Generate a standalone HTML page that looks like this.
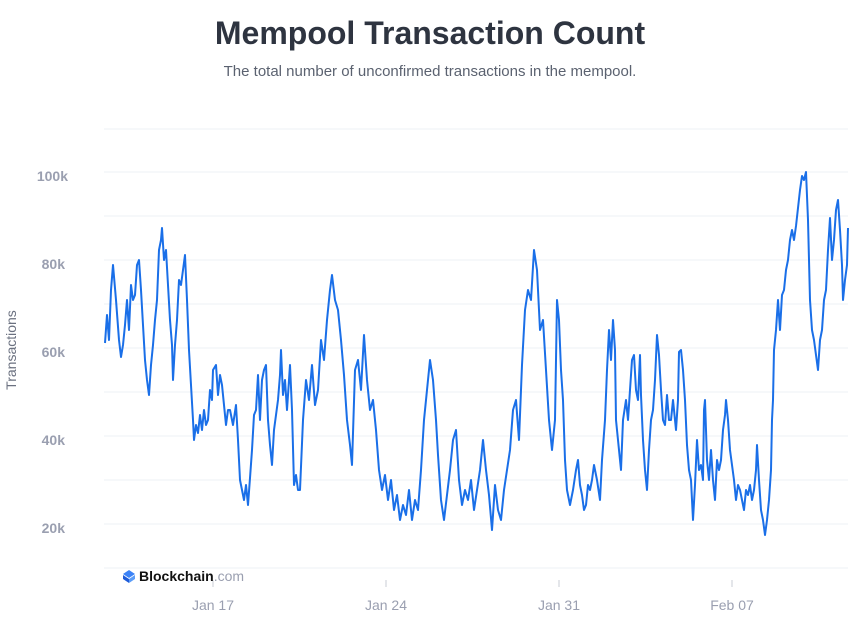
<!DOCTYPE html>
<html><head><meta charset="utf-8"><style>
body{margin:0;background:#fff;width:861px;height:618px;overflow:hidden;font-family:"Liberation Sans",sans-serif}
</style></head><body>
<svg width="861" height="618" xmlns="http://www.w3.org/2000/svg" font-family="Liberation Sans, sans-serif">
<text x="430" y="44" text-anchor="middle" font-size="32" font-weight="bold" fill="#2e3440">Mempool Transaction Count</text>
<text x="430" y="76" text-anchor="middle" font-size="15" fill="#5b6270">The total number of unconfirmed transactions in the mempool.</text>
<g stroke="#eef0f4" stroke-width="1">
<line x1="104" x2="848" y1="129" y2="129"/><line x1="104" x2="848" y1="172" y2="172"/><line x1="104" x2="848" y1="216" y2="216"/><line x1="104" x2="848" y1="260" y2="260"/><line x1="104" x2="848" y1="304" y2="304"/><line x1="104" x2="848" y1="348" y2="348"/><line x1="104" x2="848" y1="392" y2="392"/><line x1="104" x2="848" y1="436" y2="436"/><line x1="104" x2="848" y1="480" y2="480"/><line x1="104" x2="848" y1="524" y2="524"/><line x1="104" x2="848" y1="568" y2="568"/>
</g>
<g font-size="14" font-weight="bold" fill="#9a9fb0" text-anchor="end">
<text x="68" y="181">100k</text><text x="65" y="269">80k</text><text x="65" y="357">60k</text><text x="65" y="445">40k</text><text x="65" y="533">20k</text>
</g>
<text transform="translate(16,350) rotate(-90)" text-anchor="middle" font-size="14" fill="#6b7180">Transactions</text>
<g stroke="#c8ccd6"><line x1="213" x2="213" y1="580" y2="587"/><line x1="386" x2="386" y1="580" y2="587"/><line x1="559" x2="559" y1="580" y2="587"/><line x1="732" x2="732" y1="580" y2="587"/></g>
<g font-size="14" fill="#9a9fb0" text-anchor="middle">
<text x="213" y="610">Jan 17</text><text x="386" y="610">Jan 24</text><text x="559" y="610">Jan 31</text><text x="732" y="610">Feb 07</text>
</g>
<g transform="translate(123,570)"><path d="M6,0 L12,4 L6,8 L0,4Z" fill="#3b82f6"/><path d="M0,5 L6,9 L6,13 L0,9Z" fill="#1e5bd8"/><path d="M12,5 L6,9 L6,13 L12,9Z" fill="#5a9cf8"/></g>
<text x="139" y="581" font-size="14" font-weight="bold" fill="#111">Blockchain<tspan fill="#9a9fb0" font-weight="normal">.com</tspan></text>
<polyline fill="none" stroke="#1a6fe8" stroke-width="2" stroke-linejoin="round" points="105,343 107,315 109,340 111,290 113,265 116,300 119,340 121,357 123,345 125,325 127,300 129,330 131,285 133,300 135,295 137,265 139,260 141,290 143,325 145,360 147,380 149,395 151,365 153,345 155,320 157,300 159,250 161,240 162,228 164,260 166,250 168,285 170,320 172,345 173,380 175,345 177,320 179,280 181,285 183,270 185,255 187,300 189,350 191,385 193,420 194,440 196,425 198,433 200,415 202,430 204,410 206,425 208,420 210,390 212,400 213,370 216,365 218,395 220,375 222,385 224,405 226,425 228,410 230,410 233,425 236,405 238,440 240,480 242,490 244,500 246,485 248,505 250,478 252,450 254,415 256,410 258,375 260,420 262,380 264,370 266,365 268,420 270,445 272,465 274,430 276,415 278,400 280,375 281,350 283,395 285,380 287,410 290,365 292,410 294,485 296,475 298,490 300,490 303,420 306,380 309,400 312,365 315,405 318,390 321,340 324,360 327,320 330,290 332,275 335,300 338,310 341,340 344,375 347,420 350,445 352,465 355,370 358,360 361,390 364,335 367,380 370,410 373,400 376,430 379,470 382,490 385,475 388,500 391,480 394,510 397,495 400,520 403,505 406,515 409,490 412,520 415,500 418,510 421,470 424,420 427,390 430,360 433,380 436,420 438,455 441,500 444,520 447,495 450,470 453,440 456,430 459,480 462,505 465,490 468,500 471,480 474,510 477,490 480,470 483,440 486,470 489,495 492,530 495,485 498,510 501,520 504,490 507,470 510,450 513,410 516,400 519,440 522,365 525,310 528,290 531,300 534,250 537,270 540,330 543,320 546,370 549,420 552,450 555,420 557,300 559,320 561,370 563,400 565,460 567,490 570,505 573,490 576,470 578,460 580,485 582,495 584,510 586,505 588,485 590,490 592,480 594,465 597,480 600,500 602,460 605,420 607,370 609,330 611,360 613,320 615,350 616,420 619,450 621,470 623,420 626,400 628,420 630,390 632,360 634,355 636,390 638,400 640,355 641,395 643,440 645,470 647,490 649,450 651,420 653,410 655,380 657,335 659,355 661,390 663,420 665,425 667,395 669,420 671,420 673,400 676,430 678,400 679,352 681,350 683,370 685,400 687,445 689,470 691,480 693,520 695,485 697,440 699,470 701,465 703,480 704,410 705,400 707,460 709,480 711,450 713,480 715,500 717,460 719,470 721,460 723,430 725,415 726,400 728,420 730,450 732,465 734,480 736,500 738,485 740,490 742,500 744,510 746,490 748,495 750,485 752,500 754,490 756,470 757,445 759,480 761,510 763,520 765,535 767,520 769,500 771,470 772,420 773,400 774,350 776,330 778,300 780,330 782,295 784,290 786,270 788,260 790,240 792,230 794,240 796,226 798,208 800,190 802,176 804,180 806,172 808,220 810,300 812,330 814,340 816,355 818,370 820,340 822,330 824,300 826,290 828,250 830,218 832,260 834,240 836,210 838,200 840,230 842,265 843,300 845,280 847,265 848,228"/>
</svg>
</body></html>
